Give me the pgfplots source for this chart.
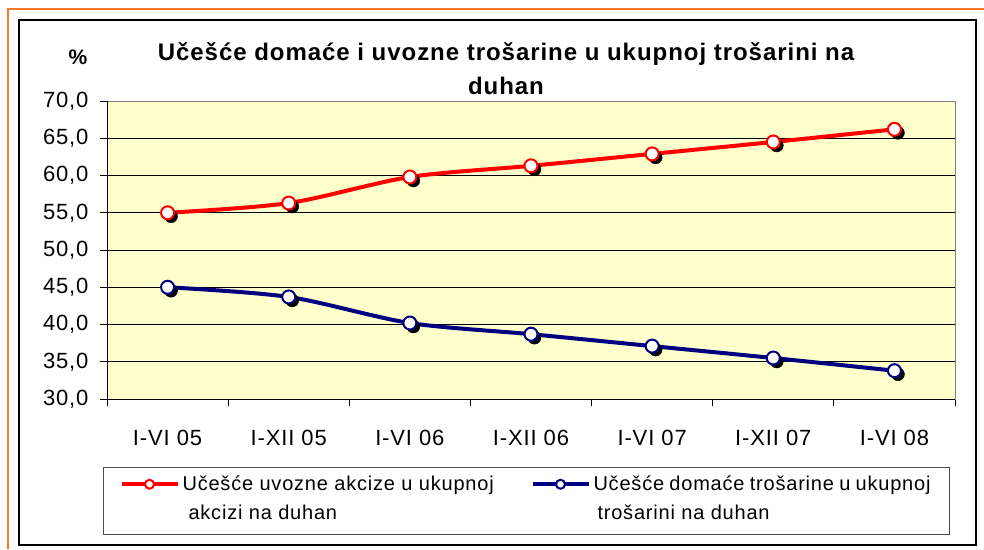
\documentclass[border=0pt]{standalone}
\usepackage{pgfplots}
\usepackage{pgfplotstable}
\pgfplotsset{compat=1.18}
\usepackage{fontspec}
\setmainfont{Liberation Sans}[LetterSpace=4]
\definecolor{plotbg}{RGB}{255,255,204}
\definecolor{frameorange}{RGB}{250,120,40}
\definecolor{navyline}{RGB}{0,0,128}
\pgfplotstableread{
x red blue
0 55.0 45.0
1 56.3 43.7
2 59.8 40.2
3 61.3 38.7
4 62.9 37.1
5 64.5 35.5
6 66.2 33.8
}\datatable
\begin{document}
\begin{tikzpicture}[x=1pt,y=1pt]
\useasboundingbox (0,0) rectangle (984,549);
\fill[white] (0,0) rectangle (984,549);
\draw[frameorange, line width=2pt] (7,540) -- (984,540);
\draw[frameorange, line width=2pt] (8,541) -- (8,0);
\draw[black, line width=1.3pt] (19,4) rectangle (976,529);
\node[font=\fontsize{24}{34}\selectfont\bfseries, align=center] at (506,480) {Učešće domaće i uvozne trošarine u ukupnoj trošarini na\\duhan};
\node[font=\fontsize{21}{25}\selectfont\bfseries] at (78,492) {\%};
\begin{axis}[
  at={(107pt,150pt)}, anchor=south west,
  scale only axis, width=848pt, height=298pt,
  xmin=-0.5, xmax=6.5, ymin=30, ymax=70,
  xtick={0,...,6},
  xticklabels={I-VI 05,I-XII 05,I-VI 06,I-XII 06,I-VI 07,I-XII 07,I-VI 08},
  minor xtick={-0.5,0.5,...,6.5},
  ytick={30,35,...,70},
  xtick pos=bottom, ytick pos=left, tick align=outside,
  major x tick style={draw=none},
  major tick length=7pt, minor tick length=7pt,
  tick style={black, line width=0.8pt},
  ymajorgrids, major grid style={black, line width=0.8pt},
  axis line style={draw=black!50, line width=1pt},
  axis background/.style={fill=plotbg},
  ticklabel style={font=\fontsize{22}{26}\selectfont},
  xticklabel style={yshift=-21pt},
  yticklabel style={xshift=-8pt},
  /pgf/number format/fixed,
  /pgf/number format/fixed zerofill,
  /pgf/number format/precision=1,
  /pgf/number format/use comma,
  /pgf/number format/assume math mode=true,
  legend columns=2,
  legend cell align=left,
  legend style={at={(axis description cs:-0.0047,-0.2282)}, anchor=north west,
    draw=black!70, line width=1pt, fill=white, inner xsep=16pt, inner ysep=4pt,
    font=\fontsize{20}{29}\selectfont,
    nodes={inner sep=3pt},
    /tikz/every even column/.append style={column sep=25pt}},
  legend image code/.code={
    \draw[mark repeat=2, mark phase=2, #1, mark size=4.5pt] plot coordinates {(0pt,16.5pt) (28pt,16.5pt) (56pt,16.5pt)};},
]
\addplot[forget plot, only marks, mark=*, mark size=6.5pt, mark options={fill=black, draw=black, xshift=3.5pt, yshift=-3.5pt}] table[x=x,y=red]{\datatable};
\addplot[forget plot, only marks, mark=*, mark size=6.5pt, mark options={fill=black, draw=black, xshift=3.5pt, yshift=-3.5pt}] table[x=x,y=blue]{\datatable};
\addplot[red, line width=4pt, smooth, tension=0.5, mark=*, mark size=6.5pt, mark options={fill=white, draw=red, line width=2pt}] table[x=x,y=red]{\datatable};
\addlegendentry{\raisebox{6pt}{\parbox[b]{320pt}{\rule{0pt}{16pt}Učešće uvozne akcize u ukupnoj\\\hspace*{6pt}akcizi na duhan}}}
\addplot[navyline, line width=4pt, smooth, tension=0.5, mark=*, mark size=6.5pt, mark options={fill=white, draw=navyline, line width=2pt}] table[x=x,y=blue]{\datatable};
\addlegendentry{\raisebox{6pt}{\parbox[b]{337pt}{\rule{0pt}{16pt}Učešće domaće trošarine u ukupnoj\\\hspace*{4pt}trošarini na duhan}}}
\draw[black, line width=1pt] (rel axis cs:0,1) -- (rel axis cs:0,0) -- (rel axis cs:1,0);
\end{axis}
\end{tikzpicture}
\end{document}
